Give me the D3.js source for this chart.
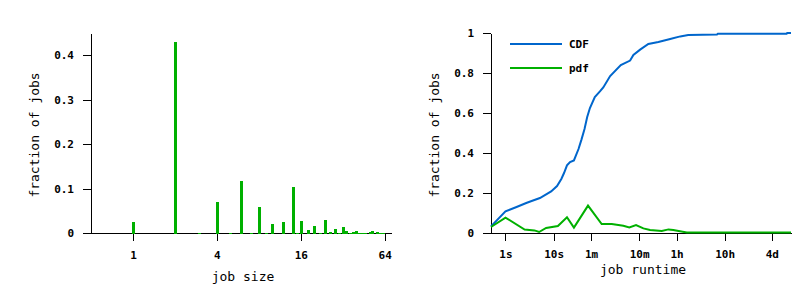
<!DOCTYPE html>
<html>
<head>
<meta charset="utf-8">
<script src="https://cdn.jsdelivr.net/npm/d3@7"></script>
<style>
  body { margin: 0; background: #fff; }
  .tick text { font-family: "DejaVu Sans Mono", monospace; font-weight: bold; font-size: 11px; fill: #000; }
  .title { font-family: "DejaVu Sans Mono", monospace; font-size: 13px; fill: #000; }
</style>
</head>
<body>
<div id="container"></div>
<script>
var width = 810;
var height = 304;

// left panel: job size histogram
var jobSizes = [1, 2, 3, 4, 5, 6, 7, 8, 9, 10, 12, 14, 15, 16, 18, 20, 22, 24, 26, 28, 30, 32, 34, 36, 38, 40, 42, 44, 46, 50, 52, 56, 58, 60, 62];
var sizeFractions = [0.024, 0.43, 0.001, 0.0705, 0.001, 0.118, 0.001, 0.059, 0.001, 0.021, 0.0255, 0.1025, 0.001, 0.028, 0.0075, 0.0165, 0.001, 0.030, 0.003, 0.0098, 0.001, 0.014, 0.005, 0.001, 0.003, 0.005, 0.001, 0.001, 0.001, 0.003, 0.005, 0.003, 0.001, 0.001, 0.001];
var sizeTicks = [1, 4, 16, 64];
var sizeYTicks = [0, 0.1, 0.2, 0.3, 0.4];

// right panel: job runtime (seconds)
var cdfTimes = [0.5, 1, 1.7, 2.7, 3.5, 5.2, 8.9, 11.8, 14.5, 16.5, 19, 22, 26.5, 33, 38, 44, 50, 57, 72, 92, 108, 150, 250, 390, 457, 630, 935, 1510, 2660, 4300, 6300, 25000, 26000, 700000, 720000, 864000];
var cdfValues = [0.033, 0.108, 0.13, 0.15, 0.16, 0.175, 0.208, 0.235, 0.27, 0.3, 0.338, 0.355, 0.363, 0.42, 0.467, 0.52, 0.58, 0.625, 0.68, 0.708, 0.728, 0.785, 0.84, 0.862, 0.89, 0.917, 0.945, 0.955, 0.97, 0.983, 0.99, 0.993, 0.9965, 0.9965, 1.0, 1.0];
var pdfTimes = [0.5, 1, 2.5, 4, 5, 7, 12.3, 19, 26.5, 52, 100, 162, 282, 376, 518, 736, 1015, 1778, 2448, 3090, 3980, 5900, 864000];
var pdfValues = [0.03, 0.077, 0.017, 0.013, 0.005, 0.025, 0.035, 0.079, 0.027, 0.137, 0.045, 0.045, 0.036, 0.028, 0.04, 0.023, 0.015, 0.01, 0.018, 0.015, 0.01, 0.003, 0.002];
var timeTicks = [1, 10, 60, 600, 3600, 36000, 345600];
var timeTickLabels = ["1s", "10s", "1m", "10m", "1h", "10h", "4d"];
var fracTicks = [0, 0.2, 0.4, 0.6, 0.8, 1];

var green = "#00b000";
var blue = "#0066cc";

var svg = d3.select("#container")
    .append("svg")
    .attr("width", width)
    .attr("height", height);

function fmt(d) { return d === 0 ? "0" : String(d); }

// ---------- left panel ----------
var x1 = d3.scaleLog().base(2).domain([0.5, 71]).range([91, 391]);
var y1 = d3.scaleLinear().domain([0, 0.45]).range([233, 33]);

var left = svg.append("g").attr("shape-rendering", "crispEdges");

left.append("g")
    .attr("transform", "translate(0,233)")
    .call(d3.axisBottom(x1).tickValues(sizeTicks).tickFormat(fmt).tickSize(8).tickSizeOuter(0).tickPadding(10));

left.append("g")
    .attr("transform", "translate(91,0)")
    .call(d3.axisLeft(y1).tickValues(sizeYTicks).tickFormat(fmt).tickSize(8).tickSizeOuter(0).tickPadding(9));

left.selectAll("rect.bar")
    .data(jobSizes)
    .enter()
    .append("rect")
    .attr("class", "bar")
    .attr("x", function(d) { return Math.round(x1(d)) - 1.5; })
    .attr("width", 3)
    .attr("y", function(d, i) { return y1(sizeFractions[i]); })
    .attr("height", function(d, i) { return y1(0) - y1(sizeFractions[i]) + 1; })
    .attr("fill", green);

svg.append("text")
    .attr("class", "title")
    .attr("transform", "rotate(-90)")
    .attr("x", -135)
    .attr("y", 39)
    .attr("text-anchor", "middle")
    .text("fraction of jobs");

svg.append("text")
    .attr("class", "title")
    .attr("x", 243)
    .attr("y", 281)
    .attr("text-anchor", "middle")
    .text("job size");

// ---------- right panel ----------
var x2 = d3.scaleLog().domain([0.5, 864000]).range([491, 791]);
var y2 = d3.scaleLinear().domain([0, 1]).range([233, 33]);

var right = svg.append("g");

right.append("g")
    .attr("shape-rendering", "crispEdges")
    .attr("transform", "translate(0,233)")
    .call(d3.axisBottom(x2).tickValues(timeTicks)
        .tickFormat(function(d, i) { return timeTickLabels[i]; })
        .tickSize(8).tickSizeOuter(0).tickPadding(9));

right.append("g")
    .attr("shape-rendering", "crispEdges")
    .attr("transform", "translate(491,0)")
    .call(d3.axisLeft(y2).tickValues(fracTicks).tickFormat(fmt).tickSize(8).tickSizeOuter(0).tickPadding(9));

var line = d3.line()
    .x(function(d) { return x2(d[0]); })
    .y(function(d) { return y2(d[1]); });

right.append("path")
    .datum(cdfTimes.map(function(t, i) { return [t, cdfValues[i]]; }))
    .attr("d", line)
    .attr("fill", "none")
    .attr("stroke", blue)
    .attr("stroke-width", 2);

right.append("path")
    .datum(pdfTimes.map(function(t, i) { return [t, pdfValues[i]]; }))
    .attr("d", line)
    .attr("fill", "none")
    .attr("stroke", green)
    .attr("stroke-width", 2);

// legend
var legend = [["CDF", blue, 44], ["pdf", green, 68]];
legend.forEach(function(l) {
    right.append("line")
        .attr("x1", 510).attr("x2", 562)
        .attr("y1", l[2]).attr("y2", l[2])
        .attr("stroke", l[1])
        .attr("stroke-width", 2);
    right.append("text")
        .attr("x", 569)
        .attr("y", l[2])
        .attr("dy", "0.35em")
        .attr("font-family", "DejaVu Sans Mono, monospace")
        .attr("font-weight", "bold")
        .attr("font-size", "11px")
        .text(l[0]);
});

svg.append("text")
    .attr("class", "title")
    .attr("transform", "rotate(-90)")
    .attr("x", -135)
    .attr("y", 439)
    .attr("text-anchor", "middle")
    .text("fraction of jobs");

svg.append("text")
    .attr("class", "title")
    .attr("x", 643)
    .attr("y", 274)
    .attr("text-anchor", "middle")
    .text("job runtime");
</script>
</body>
</html>
